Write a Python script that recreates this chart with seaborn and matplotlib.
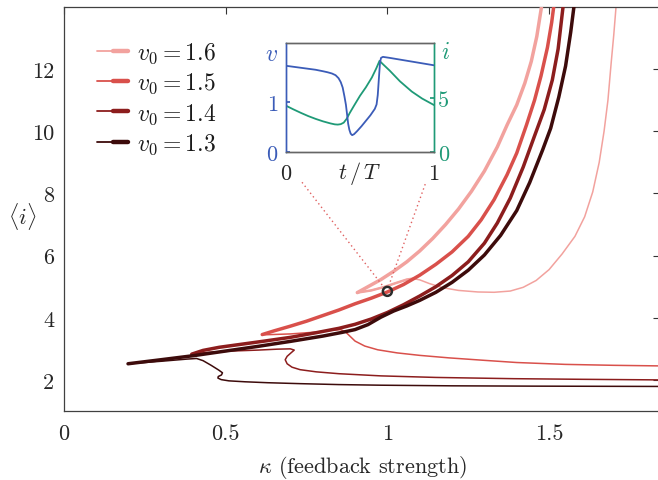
import numpy as np
import pandas as pd
import matplotlib
matplotlib.use("Agg")
import matplotlib.pyplot as plt
import seaborn as sns
from matplotlib.legend_handler import HandlerBase
from matplotlib.lines import Line2D

# ---------------- data ----------------
v0_labels = ["1.6", "1.5", "1.4", "1.3"]
colors = ["#f2a29e", "#d9504b", "#8c1d1d", "#3d0b0b"]

# upper (thick) branches: kappa, <i>
k_up_16 = [0.907, 0.94, 0.98, 1.02, 1.06, 1.10, 1.14, 1.18, 1.22, 1.26, 1.30, 1.34, 1.37, 1.40, 1.425, 1.445, 1.462, 1.475, 1.482]
i_up_16 = [4.81, 5.00, 5.23, 5.50, 5.80, 6.15, 6.55, 7.00, 7.50, 8.07, 8.72, 9.50, 10.20, 10.85, 11.55, 12.25, 13.05, 13.90, 14.40]
k_up_15 = [0.613, 0.65, 0.70, 0.75, 0.80, 0.85, 0.90, 0.95, 1.00, 1.05, 1.10, 1.15, 1.20, 1.25, 1.29, 1.33, 1.37, 1.40, 1.43, 1.455, 1.475, 1.495, 1.508, 1.518]
i_up_15 = [3.46, 3.58, 3.73, 3.89, 4.07, 4.25, 4.45, 4.63, 4.83, 5.07, 5.37, 5.72, 6.12, 6.62, 7.15, 7.80, 8.60, 9.30, 10.20, 11.00, 11.78, 12.70, 13.50, 14.30]
k_up_14 = [0.395, 0.43, 0.48, 0.55, 0.62, 0.70, 0.78, 0.85, 0.90, 0.95, 1.00, 1.05, 1.10, 1.15, 1.20, 1.25, 1.30, 1.34, 1.38, 1.42, 1.455, 1.485, 1.51, 1.528, 1.542, 1.548]
i_up_14 = [2.83, 2.95, 3.05, 3.15, 3.25, 3.37, 3.52, 3.66, 3.79, 3.96, 4.17, 4.42, 4.70, 5.00, 5.36, 5.80, 6.40, 7.05, 7.85, 8.85, 9.85, 10.70, 11.65, 12.65, 13.90, 14.40]
k_up_13 = [0.198, 0.30, 0.40, 0.50, 0.60, 0.70, 0.80, 0.86, 0.90, 0.94, 0.98, 1.02, 1.06, 1.10, 1.15, 1.20, 1.25, 1.30, 1.35, 1.40, 1.44, 1.48, 1.505, 1.53, 1.551, 1.567, 1.578, 1.582]
i_up_13 = [2.52, 2.65, 2.78, 2.93, 3.08, 3.24, 3.41, 3.53, 3.62, 3.78, 4.02, 4.22, 4.38, 4.56, 4.82, 5.14, 5.53, 6.02, 6.65, 7.45, 8.35, 9.40, 10.10, 11.10, 12.10, 13.20, 14.10, 14.40]

# lower (thin) branches
k_lo_16 = [0.907, 0.95, 0.99, 1.03, 1.06, 1.08, 1.10, 1.13, 1.17, 1.22, 1.28, 1.33, 1.38, 1.42, 1.46, 1.50, 1.54, 1.58, 1.61, 1.635, 1.655, 1.67, 1.682, 1.692, 1.700, 1.707, 1.711]
i_lo_16 = [4.81, 4.88, 4.99, 5.13, 5.23, 5.26, 5.22, 5.10, 4.97, 4.88, 4.83, 4.82, 4.86, 4.98, 5.20, 5.55, 6.05, 6.62, 7.25, 8.05, 9.00, 10.00, 11.00, 12.20, 13.10, 14.00, 14.40]
k_lo_15 = [0.613, 0.70, 0.78, 0.83, 0.855, 0.87, 0.885, 0.90, 0.93, 0.97, 1.03, 1.10, 1.19, 1.30, 1.40, 1.55, 1.70, 1.85]
i_lo_15 = [3.45, 3.48, 3.54, 3.60, 3.62, 3.55, 3.40, 3.25, 3.09, 2.97, 2.87, 2.79, 2.71, 2.63, 2.56, 2.50, 2.47, 2.45]
k_lo_14 = [0.395, 0.45, 0.52, 0.60, 0.66, 0.70, 0.712, 0.703, 0.690, 0.684, 0.690, 0.705, 0.73, 0.78, 0.85, 0.98, 1.15, 1.39, 1.60, 1.85]
i_lo_14 = [2.84, 2.89, 2.93, 2.96, 2.99, 3.00, 2.96, 2.88, 2.76, 2.65, 2.52, 2.41, 2.33, 2.26, 2.20, 2.13, 2.08, 2.04, 2.02, 2.00]
k_lo_13 = [0.198, 0.30, 0.38, 0.41, 0.43, 0.455, 0.478, 0.490, 0.487, 0.477, 0.476, 0.486, 0.51, 0.56, 0.63, 0.73, 0.85, 0.98, 1.20, 1.45, 1.85]
i_lo_13 = [2.52, 2.60, 2.67, 2.69, 2.62, 2.47, 2.32, 2.23, 2.16, 2.11, 2.06, 2.01, 1.97, 1.94, 1.91, 1.88, 1.85, 1.83, 1.81, 1.80, 1.79]

# marked orbit
k_mark = [1.0]
i_mark = [4.85]

# inset: one period of v(t) and i(t)
t_v = [0.0, 0.05, 0.10, 0.15, 0.20, 0.25, 0.28, 0.31, 0.335, 0.355, 0.37, 0.383, 0.395, 0.405, 0.413, 0.42, 0.428, 0.437, 0.447, 0.46, 0.48, 0.51, 0.54, 0.57, 0.60, 0.612, 0.62, 0.628, 0.635, 0.642, 0.655, 0.70, 0.80, 0.90, 1.0]
v_t = [1.74, 1.72, 1.70, 1.68, 1.66, 1.63, 1.61, 1.585, 1.55, 1.49, 1.41, 1.30, 1.12, 0.95, 0.75, 0.57, 0.45, 0.37, 0.34, 0.36, 0.42, 0.52, 0.63, 0.74, 0.87, 0.96, 1.15, 1.50, 1.80, 1.90, 1.92, 1.90, 1.85, 1.80, 1.75]
t_i = [0.0, 0.05, 0.10, 0.15, 0.20, 0.25, 0.30, 0.33, 0.35, 0.37, 0.39, 0.41, 0.43, 0.46, 0.50, 0.54, 0.58, 0.61, 0.632, 0.65, 0.70, 0.77, 0.85, 0.92, 1.0]
i_t = [4.29, 3.95, 3.63, 3.33, 3.07, 2.84, 2.65, 2.56, 2.54, 2.58, 2.72, 3.08, 3.60, 4.30, 5.21, 6.00, 6.90, 7.75, 8.45, 8.20, 7.55, 6.55, 5.60, 4.95, 4.35]

# ---------------- style ----------------
sns.set_theme(style="white")
plt.rcParams.update({
    "font.family": ["cmr10", "DejaVu Serif"],
    "mathtext.fontset": "cm",
    "axes.formatter.use_mathtext": True,
    "axes.unicode_minus": False,
})

fig = plt.figure(figsize=(6.58, 4.81), dpi=100)
W, H = 658, 481
ax = fig.add_axes([64 / W, 1 - 412 / H, (660 - 64) / W, (412 - 8) / H])

LW_THICK, LW_THIN = 2.5, 1.1

series = [
    (k_up_16, i_up_16, k_lo_16, i_lo_16),
    (k_up_15, i_up_15, k_lo_15, i_lo_15),
    (k_up_14, i_up_14, k_lo_14, i_lo_14),
    (k_up_13, i_up_13, k_lo_13, i_lo_13),
]

for (ku, iu, kl, il), c in zip(series, colors):
    sns.lineplot(x=kl, y=il, sort=False, estimator=None, color=c, lw=LW_THIN, ax=ax,
                 solid_capstyle="round", solid_joinstyle="round", zorder=2)
    sns.lineplot(x=ku, y=iu, sort=False, estimator=None, color=c, lw=LW_THICK, ax=ax,
                 solid_capstyle="round", solid_joinstyle="round", zorder=3)

# pink lower branch: thicker near the fold
sns.lineplot(x=k_lo_16[:6], y=i_lo_16[:6], sort=False, estimator=None, color=colors[0],
             lw=1.8, ax=ax, solid_capstyle="round", solid_joinstyle="round", zorder=2)

# dotted connectors from inset to marked orbit
sns.lineplot(x=[0.736, 0.984], y=[8.36, 5.05], sort=False, estimator=None,
             color="#e06060", lw=1.0, ls=(0, (1, 2.2)), ax=ax, zorder=4)
sns.lineplot(x=[1.117, 1.008], y=[8.30, 5.14], sort=False, estimator=None,
             color="#e06060", lw=1.0, ls=(0, (1, 2.2)), ax=ax, zorder=4)

sns.scatterplot(x=k_mark, y=i_mark, marker="o", s=42, facecolor="none",
                edgecolor="#2b2b2b", linewidth=1.8, ax=ax, zorder=6)

ax.set_xlim(0, 1.843)
ax.set_ylim(1, 14)
ax.set_xticks([0, 0.5, 1, 1.5])
ax.set_xticklabels(["0", "0.5", "1", "1.5"])
ax.set_yticks([2, 4, 6, 8, 10, 12])
ax.set_yticklabels(["2", "4", "6", "8", "10", "12"])
ax.tick_params(direction="in", length=5, width=0.8, color="#333333",
               top=True, right=True, labelsize=16, labelcolor="#262626")
ax.tick_params(axis="x", pad=9)
ax.tick_params(axis="y", pad=7)
for s in ax.spines.values():
    s.set_visible(True)
    s.set_color("#404040")
    s.set_linewidth(0.9)

ax.set_xlabel(r"$\kappa$ (feedback strength)", fontsize=16, color="#262626", labelpad=7)
ax.set_ylabel(r"$\langle i\rangle$", fontsize=16, color="#262626", rotation=0,
              va="center", labelpad=9)
ax.yaxis.set_label_coords(-0.07, 0.485)

# legend with thin->thick handles
class ThinThick(HandlerBase):
    def create_artists(self, legend, orig_handle, xdescent, ydescent, width, height,
                       fontsize, trans):
        c = orig_handle.get_color()
        y = (height - ydescent) / 2
        x0 = -xdescent
        l1 = Line2D([x0, x0 + width * 0.55], [y, y], color=c, lw=1.3, transform=trans)
        l2 = Line2D([x0 + width * 0.5, x0 + width], [y, y], color=c, lw=3.2,
                    transform=trans, solid_capstyle="round")
        return [l1, l2]

handles = [Line2D([], [], color=c) for c in colors]
labels = [r"$v_0 = %s$" % v for v in v0_labels]
leg = ax.legend(handles, labels, handler_map={Line2D: ThinThick()}, loc="upper left",
                bbox_to_anchor=(0.027, 0.958), frameon=False, fontsize=17,
                handlelength=1.35, handletextpad=0.35, labelspacing=0.26, borderpad=0.2)
for t in leg.get_texts():
    t.set_color("#1a1a1a")

# ---------------- inset ----------------
BLUE, GREEN = "#3b5cb8", "#1f9a77"
axi = fig.add_axes([286 / W, 1 - 153 / H, 148 / W, 109 / H])
axi2 = axi.twinx()
sns.lineplot(x=t_i, y=i_t, sort=False, estimator=None, color=GREEN, lw=1.3, ax=axi2,
             solid_joinstyle="round")
sns.lineplot(x=t_v, y=v_t, sort=False, estimator=None, color=BLUE, lw=1.3, ax=axi,
             zorder=5, solid_joinstyle="round")
axi.set_zorder(axi2.get_zorder() + 1)
axi.patch.set_visible(False)
axi2.patch.set_visible(True)
axi2.patch.set_facecolor("white")

axi.set_xlim(0, 1)
axi.set_ylim(0, 2.2)
axi2.set_ylim(0, 10.1)
axi.set_xticks([0, 1])
axi.set_xticklabels(["0", "1"])
axi.set_yticks([0, 1])
axi.set_yticklabels(["0", "1"])
axi2.set_yticks([0, 5])
axi2.set_yticklabels(["0", "5"])
axi.tick_params(axis="x", length=0, labelsize=16, pad=8, labelcolor="#262626")
axi.tick_params(axis="y", direction="in", length=3, color=BLUE, labelcolor=BLUE,
                labelsize=16, pad=6)
axi2.tick_params(axis="y", direction="in", length=3, color=GREEN, labelcolor=GREEN,
                 labelsize=16, pad=3)
axi.set_xlabel("")
axi.set_ylabel("")
axi2.set_ylabel("")
for a in (axi, axi2):
    for s in a.spines.values():
        s.set_visible(True)
        s.set_color("#666666")
        s.set_linewidth(1.0)
axi.spines["left"].set_color(BLUE)
axi.spines["right"].set_color(GREEN)
axi2.spines["left"].set_color(BLUE)
axi2.spines["right"].set_color(GREEN)

axi.text(0.5, -0.19, r"$t\,/\,T$", transform=axi.transAxes, ha="center", va="center",
         fontsize=16, color="#262626")
axi.text(-0.095, 0.9, r"$v$", transform=axi.transAxes, ha="center", va="center",
         fontsize=17, color=BLUE)
axi.text(1.075, 0.92, r"$i$", transform=axi.transAxes, ha="center", va="center",
         fontsize=17, color=GREEN)

fig.savefig("out.png", dpi=100)
